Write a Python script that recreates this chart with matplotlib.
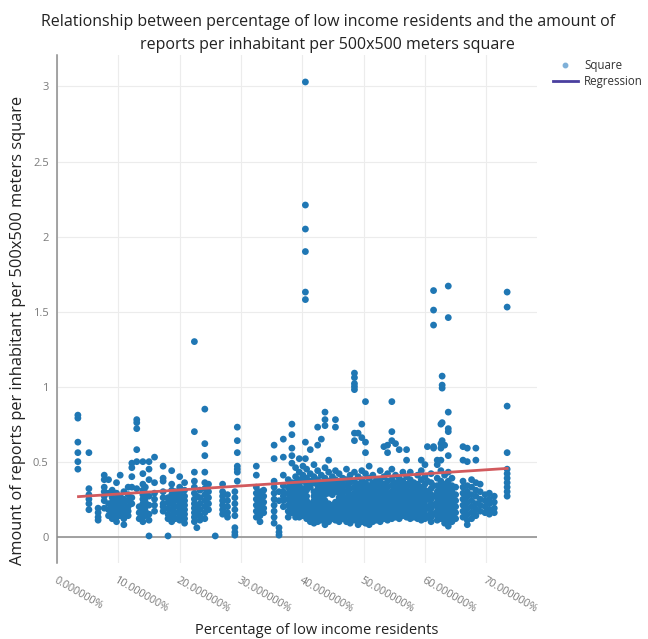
import matplotlib
matplotlib.use('Agg')
import matplotlib.pyplot as plt
from matplotlib.lines import Line2D

plt.rcParams['font.family'] = ['Open Sans', 'DejaVu Sans']

# share of low income residents (%) for each vertical cluster of squares,
# and the reports-per-inhabitant values observed at that share
col_pct = [3.4, 5.2, 6.7, 7.7, 8.4, 9.0, 9.7, 10.3, 10.9, 11.6, 12.2, 13.0, 13.4,
           14.0, 14.4, 15.0, 15.9, 17.3, 18.1, 18.7, 19.3, 20.0, 20.8,
           22.4, 22.8, 23.3, 24.1, 24.7, 25.8, 27.0, 27.8, 29.0, 29.4,
           32.5, 33.1, 33.7, 35.4, 36.2, 36.9, 37.7, 38.3,
           38.9, 39.5, 40.1, 40.5, 40.7, 41.3, 41.9, 42.5, 43.1, 43.7, 44.3, 44.9,
           45.4, 46.0, 46.6, 47.2, 47.8, 48.5, 49.1, 49.7, 50.3, 50.9, 51.5, 52.1,
           52.7, 53.3, 53.9, 54.6, 55.2, 55.8, 56.4, 57.0, 57.6, 58.2, 58.8, 59.4,
           60.0, 60.4, 61.0, 61.4, 62.0, 62.6, 62.8, 63.2, 63.8, 64.4, 65.0,
           66.2, 66.9, 67.6, 68.3, 69.0, 69.8, 70.5, 71.3, 73.4]

col_vals = [
    [0.81, 0.79, 0.63, 0.56, 0.50, 0.45],
    [0.56, 0.32, 0.28, 0.25, 0.22, 0.18],
    [0.19, 0.16, 0.13, 0.11],
    [0.41, 0.38, 0.33, 0.30, 0.27, 0.24, 0.19],
    [0.38, 0.29, 0.22, 0.18, 0.14],
    [0.31, 0.26, 0.23, 0.20, 0.17, 0.15, 0.12],
    [0.36, 0.29, 0.25, 0.22, 0.19, 0.16, 0.13, 0.10],
    [0.41, 0.27, 0.24, 0.21, 0.19, 0.17, 0.14],
    [0.30, 0.25, 0.22, 0.18, 0.15, 0.12, 0.08],
    [0.33, 0.28, 0.24, 0.20, 0.17, 0.14],
    [0.49, 0.46, 0.40, 0.33, 0.26, 0.22],
    [0.78, 0.76, 0.72, 0.58, 0.50, 0.32],
    [0.20, 0.16, 0.12],
    [0.50, 0.42, 0.35, 0.31, 0.28, 0.25, 0.22, 0.19, 0.16, 0.13, 0.10],
    [0.33, 0.29, 0.26, 0.23, 0.20, 0.17, 0.14],
    [0.50, 0.45, 0.38, 0.27, 0.21, 0.15, 0.11, 0.005],
    [0.53, 0.36, 0.29, 0.25, 0.21, 0.17],
    [0.47, 0.39, 0.37, 0.30, 0.26, 0.22, 0.20, 0.17],
    [0.26, 0.23, 0.19, 0.15, 0.12, 0.005],
    [0.44, 0.35, 0.31, 0.28, 0.25, 0.22, 0.18, 0.14, 0.10],
    [0.30, 0.27, 0.24, 0.20, 0.16, 0.12],
    [0.40, 0.33, 0.29, 0.26, 0.23, 0.20, 0.17, 0.14, 0.11],
    [0.36, 0.31, 0.27, 0.24, 0.21, 0.18, 0.15, 0.12, 0.09],
    [1.30, 0.70, 0.43, 0.37, 0.33, 0.29, 0.25, 0.22, 0.19, 0.16, 0.13, 0.10],
    [0.27, 0.21, 0.15, 0.06],
    [0.31, 0.26, 0.22, 0.18, 0.14, 0.11],
    [0.85, 0.62, 0.54, 0.43, 0.36, 0.32, 0.28, 0.24, 0.20, 0.16, 0.12],
    [0.35, 0.30, 0.26, 0.22, 0.18],
    [0.005],
    [0.35, 0.30, 0.27, 0.24, 0.21, 0.18, 0.15],
    [0.28, 0.24, 0.20, 0.16, 0.13],
    [0.30, 0.26, 0.22, 0.18, 0.14, 0.06, 0.03, 0.01],
    [0.73, 0.64, 0.56, 0.47, 0.45, 0.43, 0.37],
    [0.47, 0.41, 0.33, 0.29, 0.25, 0.21, 0.17, 0.13],
    [0.30, 0.26, 0.22, 0.18, 0.14, 0.10],
    [0.31, 0.27, 0.23, 0.19, 0.16],
    [0.61, 0.52, 0.37, 0.33, 0.29, 0.25, 0.21, 0.17, 0.13, 0.09],
    [0.30, 0.24, 0.06, 0.03, 0.01],
    [0.65, 0.53, 0.41, 0.34, 0.30, 0.27, 0.24, 0.20],
    [0.38, 0.33, 0.29, 0.25, 0.21, 0.17, 0.13],
    [0.75, 0.68, 0.59, 0.54, 0.49, 0.36, 0.32, 0.28, 0.24, 0.20, 0.16],
    [0.46, 0.40, 0.36, 0.33, 0.30, 0.27, 0.24, 0.21, 0.18, 0.15, 0.13],
    [0.52, 0.43, 0.38, 0.34, 0.31, 0.28, 0.25, 0.22, 0.19, 0.16, 0.13],
    [0.47, 0.41, 0.37, 0.32, 0.29, 0.26, 0.23, 0.20, 0.17, 0.14],
    [3.03, 2.21, 2.05, 1.90, 1.63, 1.58, 0.63, 0.52],
    [0.45, 0.39, 0.35, 0.31, 0.27, 0.24, 0.21, 0.18, 0.15, 0.12],
    [0.58, 0.42, 0.37, 0.33, 0.22, 0.19, 0.16, 0.13, 0.10],
    [0.48, 0.40, 0.36, 0.30, 0.27, 0.24, 0.21, 0.18, 0.15, 0.12, 0.09],
    [0.73, 0.61, 0.44, 0.38, 0.34, 0.31, 0.28, 0.25, 0.22, 0.19, 0.16, 0.13, 0.10],
    [0.65, 0.41, 0.36, 0.32, 0.29, 0.26, 0.23, 0.20, 0.17, 0.14, 0.11],
    [0.83, 0.78, 0.74, 0.46, 0.39, 0.35, 0.31, 0.28, 0.24, 0.21, 0.18, 0.15, 0.12, 0.08],
    [0.51, 0.43, 0.37, 0.33, 0.29, 0.22, 0.19, 0.16, 0.13, 0.10],
    [0.40, 0.35, 0.31, 0.28, 0.21, 0.18, 0.15, 0.12],
    [0.78, 0.73, 0.44, 0.38, 0.34, 0.30, 0.23, 0.20, 0.17, 0.14, 0.11],
    [0.42, 0.37, 0.33, 0.29, 0.26, 0.22, 0.19, 0.16, 0.13, 0.10],
    [0.39, 0.35, 0.31, 0.27, 0.24, 0.21, 0.18, 0.15, 0.12],
    [0.45, 0.38, 0.34, 0.30, 0.26, 0.23, 0.20, 0.17, 0.14, 0.10],
    [0.41, 0.36, 0.32, 0.28, 0.25, 0.22, 0.19, 0.16, 0.13, 0.09],
    [1.09, 1.06, 1.02, 1.00, 0.98, 0.69, 0.64, 0.43, 0.37, 0.33, 0.29, 0.26,
     0.23, 0.20, 0.17, 0.14, 0.11],
    [0.69, 0.40, 0.35, 0.31, 0.28, 0.24, 0.21, 0.18, 0.15, 0.12, 0.08],
    [0.75, 0.66, 0.44, 0.38, 0.34, 0.30, 0.27, 0.24, 0.20, 0.17, 0.14, 0.10],
    [0.90, 0.63, 0.56, 0.42, 0.36, 0.32, 0.29, 0.25, 0.22, 0.19, 0.16, 0.13, 0.09],
    [0.47, 0.39, 0.34, 0.31, 0.27, 0.24, 0.21, 0.18, 0.15, 0.12, 0.08],
    [0.41, 0.36, 0.32, 0.28, 0.25, 0.22, 0.19, 0.16, 0.13, 0.10],
    [0.38, 0.34, 0.30, 0.26, 0.23, 0.20, 0.17, 0.14, 0.11],
    [0.44, 0.37, 0.33, 0.29, 0.25, 0.22, 0.19, 0.16, 0.13, 0.10],
    [0.60, 0.40, 0.35, 0.31, 0.28, 0.24, 0.21, 0.18, 0.15, 0.12],
    [0.61, 0.56, 0.42, 0.37, 0.33, 0.29, 0.26, 0.23, 0.20, 0.17, 0.14, 0.11],
    [0.90, 0.70, 0.64, 0.45, 0.38, 0.34, 0.30, 0.27, 0.24, 0.21, 0.18, 0.15, 0.12],
    [0.62, 0.41, 0.36, 0.32, 0.28, 0.25, 0.22, 0.19, 0.16, 0.13],
    [0.58, 0.39, 0.35, 0.31, 0.27, 0.24, 0.21, 0.18, 0.15, 0.12],
    [0.43, 0.37, 0.33, 0.29, 0.26, 0.23, 0.20, 0.17, 0.14],
    [0.58, 0.51, 0.40, 0.35, 0.31, 0.28, 0.25, 0.22, 0.19, 0.16, 0.13],
    [0.43, 0.38, 0.34, 0.30, 0.27, 0.24, 0.21, 0.18, 0.15, 0.12],
    [0.36, 0.32, 0.28, 0.25, 0.22, 0.19, 0.16, 0.13],
    [0.41, 0.35, 0.31, 0.27, 0.24, 0.21, 0.18, 0.15, 0.12],
    [0.51, 0.44, 0.38, 0.33, 0.29, 0.26, 0.23, 0.20, 0.17, 0.14, 0.11],
    [0.48, 0.40, 0.35, 0.31, 0.27, 0.24, 0.21, 0.18, 0.15, 0.12],
    [0.60, 0.37, 0.30, 0.25, 0.19, 0.13],
    [0.42, 0.36, 0.32, 0.28, 0.25, 0.22, 0.19, 0.16, 0.13, 0.10],
    [1.64, 1.51, 1.41, 0.60, 0.59, 0.34, 0.27, 0.21, 0.15],
    [0.51, 0.48, 0.39, 0.34, 0.30, 0.26, 0.23, 0.20, 0.17, 0.14, 0.11],
    [0.75, 0.62, 0.59, 0.51, 0.44, 0.37, 0.33, 0.29, 0.25, 0.22, 0.19, 0.16, 0.12],
    [1.07, 1.01, 0.99, 0.76, 0.64],
    [0.61, 0.41, 0.35, 0.31, 0.27, 0.24, 0.21, 0.18, 0.15, 0.12, 0.09],
    [1.67, 1.46, 0.83, 0.72, 0.70, 0.54, 0.43, 0.37, 0.33, 0.29, 0.26, 0.23,
     0.20, 0.17, 0.14, 0.11, 0.07],
    [0.39, 0.34, 0.30, 0.26, 0.22, 0.18, 0.14, 0.10],
    [0.33, 0.28, 0.24, 0.20, 0.16, 0.12],
    [0.60, 0.51, 0.37, 0.33, 0.29, 0.25, 0.21, 0.17, 0.13],
    [0.59, 0.50, 0.34, 0.30, 0.27, 0.23, 0.19, 0.15, 0.11, 0.08],
    [0.38, 0.33, 0.28, 0.24, 0.20, 0.16, 0.12],
    [0.59, 0.51, 0.36, 0.31, 0.27, 0.22, 0.18, 0.14],
    [0.35, 0.30, 0.25, 0.21, 0.17],
    [0.28, 0.24, 0.20, 0.16],
    [0.29, 0.25, 0.22, 0.18, 0.15],
    [0.27, 0.23, 0.19, 0.16],
    [1.63, 1.53, 0.87, 0.56, 0.45, 0.42, 0.39, 0.36, 0.33, 0.30, 0.27],
]

# fitted trend, end points
reg_pct = [3.5, 73.4]
reg_vals = [0.267, 0.455]

x_ticks = [0, 10, 20, 30, 40, 50, 60, 70]
x_tick_labels = [f'{v:.6f}%' for v in x_ticks]
y_ticks = [0, 0.5, 1, 1.5, 2, 2.5, 3]
y_tick_labels = ['0', '0.5', '1', '1.5', '2', '2.5', '3']

xs, ys = [], []
for p, vals in zip(col_pct, col_vals):
    for v in vals:
        xs.append(p)
        ys.append(v)

fig = plt.figure(figsize=(6.48, 6.39), dpi=100)
ax = fig.add_axes([0.088, 0.119, 0.741, 0.795])

ax.scatter(xs, ys, s=24, color='#1f77b4', edgecolors='none', zorder=3)
ax.plot(reg_pct, reg_vals, color='#d25a5e', lw=2, zorder=4)
ax.axhline(0, color='#9a9a9a', lw=1.3, zorder=2)

ax.set_xlim(0, 78.3)
ax.set_ylim(-0.175, 3.21)

ax.set_xticks(x_ticks)
ax.set_xticklabels(x_tick_labels, rotation=-30, ha='left', va='top',
                   rotation_mode='anchor', fontsize=7.8, color='#7a7a7a')
ax.set_yticks(y_ticks)
ax.set_yticklabels(y_tick_labels, fontsize=8, color='#7a7a7a')
ax.tick_params(axis='both', length=0)
ax.tick_params(axis='x', pad=9)
ax.tick_params(axis='y', pad=6)

ax.grid(True, color='#ececec', lw=0.8, zorder=0)
ax.set_axisbelow(True)
for side in ['top', 'right', 'bottom']:
    ax.spines[side].set_visible(False)
ax.spines['left'].set_color('#8c8c8c')
ax.spines['left'].set_linewidth(1.1)

fig.text(0.506, 0.966, 'Relationship between percentage of low income residents and the amount of',
         ha='center', va='center', fontsize=11.55, color='#222222')
fig.text(0.506, 0.930, 'reports per inhabitant per 500x500 meters square',
         ha='center', va='center', fontsize=11.55, color='#222222')
fig.text(0.488, 0.014, 'Percentage of low income residents',
         ha='center', va='center', fontsize=10.5, color='#222222')
fig.text(0.028, 0.483, 'Amount of reports per inhabitant per 500x500 meters square',
         ha='center', va='center', rotation=90, fontsize=11.8, color='#222222')

handles = [
    Line2D([], [], marker='o', ls='none', markersize=3.2, color='#7fb0d8'),
    Line2D([], [], color='#4a3f9f', lw=2),
]
fig.legend(handles, ['Square', 'Regression'], loc='upper left',
           bbox_to_anchor=(0.846, 0.915), frameon=False, fontsize=8.3,
           handlelength=2.2, handletextpad=0.5, labelspacing=0.3,
           labelcolor='#333333', borderaxespad=0)

fig.savefig('out.png', dpi=100)
plt.close(fig)
